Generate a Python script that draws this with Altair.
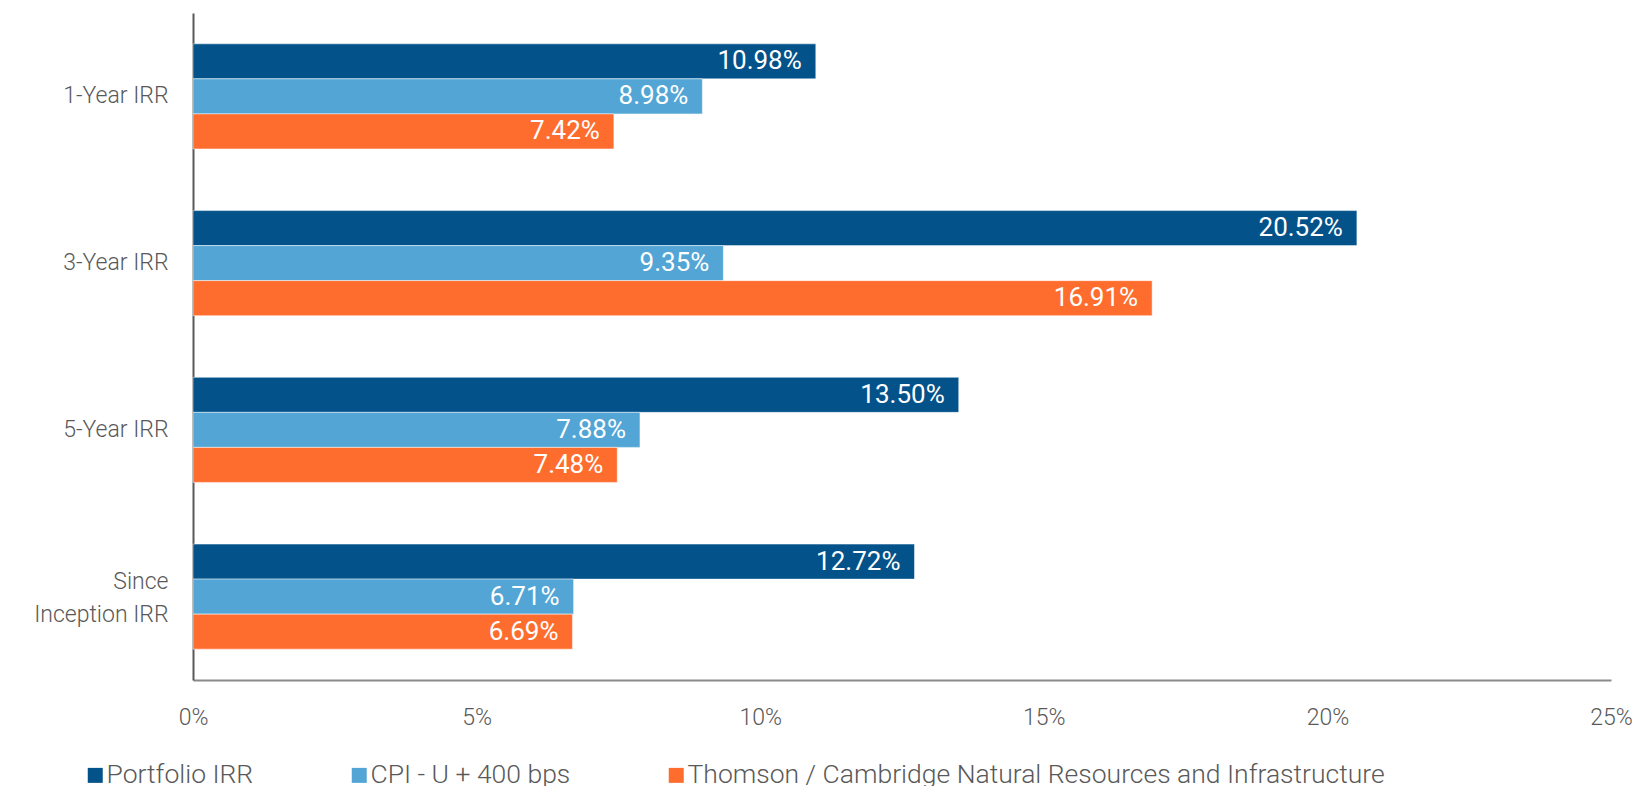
import altair as alt
import pandas as pd

categories = ["1-Year IRR", "3-Year IRR", "5-Year IRR", "Since Inception IRR"]
series = ["Portfolio IRR", "CPI - U + 400 bps", "Thomson / Cambridge Natural Resources and Infrastructure"]
portfolio = [10.98, 20.52, 13.50, 12.72]
cpi = [8.98, 9.35, 7.88, 6.71]
thomson = [7.42, 16.91, 7.48, 6.69]
colors = ["#03528A", "#52A5D4", "#FF6D2E"]
x_ticks = [0, 5, 10, 15, 20, 25]

rows = []
for i, c in enumerate(categories):
    for s, vals in zip(series, [portfolio, cpi, thomson]):
        rows.append({"category": c, "series": s, "value": vals[i]})
df = pd.DataFrame(rows)

FONT = "Roboto"
TXT = "#595959"

base = alt.Chart(df).encode(
    y=alt.Y("category:N", sort=categories, title=None,
            scale=alt.Scale(paddingInner=0.37, paddingOuter=0.185),
            axis=alt.Axis(labelExpr="datum.label == 'Since Inception IRR' ? ['Since', 'Inception IRR'] : datum.label",
                          labelFontSize=23, labelFont=FONT, labelFontWeight=300, labelColor=TXT,
                          labelPadding=25, labelLineHeight=33, ticks=False,
                          labelOffset={"condition": {"test": "datum.value == 'Since Inception IRR'", "value": -15}, "value": 0},
                          domainColor="#595959", domainWidth=2)),
    yOffset=alt.YOffset("series:N", sort=series),
)

bars = base.mark_bar(stroke="white", strokeWidth=0.8, strokeOpacity=0.6).encode(
    x=alt.X("value:Q", title=None,
            scale=alt.Scale(domain=[0, 25], nice=False),
            axis=alt.Axis(values=x_ticks, labelExpr="datum.value + '%'", grid=False, ticks=False,
                          labelFlush=False,
                          labelFontSize=23, labelFont=FONT, labelFontWeight=300, labelColor=TXT,
                          labelPadding=26, domainColor="#8a8a8a", domainWidth=2)),
    color=alt.Color("series:N", sort=series,
                    scale=alt.Scale(domain=series, range=colors),
                    legend=alt.Legend(title=None, orient="none", direction="horizontal",
                                      legendX=-111, legendY=749, symbolType="square",
                                      symbolSize=225, symbolStrokeWidth=0, labelFontSize=26.5,
                                      labelFont=FONT, labelFontWeight=300, labelColor=TXT,
                                      labelOffset={"expr": "-2"}, columnPadding=92, labelLimit=1000)),
)

labels = base.mark_text(align="right", baseline="middle", dx=-14, fontSize=26,
                        font=FONT, fontWeight=400, color="white").encode(
    x=alt.X("value:Q"),
    text=alt.Text("label:N"),
).transform_calculate(label="format(datum.value, '.2f') + '%'")

chart = alt.layer(bars, labels).properties(
    width=1418, height=667,
    autosize=alt.AutoSizeParams(type="none"),
    padding={"left": 185, "top": 5, "right": 21, "bottom": 130},
).configure_view(stroke=None)

chart.save("out.html", embed_options={"renderer": "svg", "actions": False})
